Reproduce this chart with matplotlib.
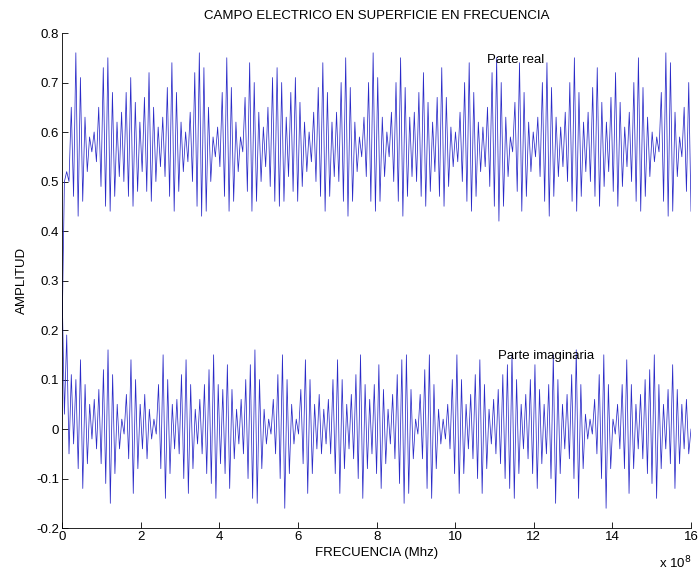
import matplotlib.pyplot as plt
import numpy as np
from matplotlib.ticker import FuncFormatter

# extrema (alternating max/min), real part
parte_real = [0.20, 0.50, 0.52, 0.50,
    0.65, 0.47, 0.76, 0.43, 0.71, 0.46, 0.63, 0.52, 0.59, 0.56, 0.60, 0.54, 0.65, 0.49, 0.73, 0.45,
    0.75, 0.44, 0.68, 0.47, 0.62, 0.51, 0.64, 0.50, 0.68, 0.47, 0.71, 0.45, 0.66, 0.48, 0.62, 0.52,
    0.67, 0.48, 0.72, 0.46, 0.65, 0.50, 0.61, 0.53, 0.63, 0.51, 0.69, 0.47, 0.74, 0.44, 0.68, 0.48,
    0.62, 0.52, 0.60, 0.54, 0.64, 0.50, 0.72, 0.45, 0.76, 0.43, 0.73, 0.44, 0.65, 0.50, 0.59, 0.55,
    0.61, 0.53, 0.68, 0.47, 0.75, 0.44, 0.69, 0.46, 0.62, 0.52, 0.59, 0.56, 0.67, 0.48, 0.74, 0.44,
    0.70, 0.46, 0.64, 0.50, 0.61, 0.53, 0.65, 0.49, 0.71, 0.46, 0.73, 0.45, 0.70, 0.46, 0.63, 0.51,
    0.68, 0.48, 0.71, 0.46, 0.66, 0.49, 0.62, 0.52, 0.60, 0.54, 0.64, 0.50, 0.69, 0.47, 0.74, 0.44,
    0.68, 0.47, 0.62, 0.51, 0.64, 0.50, 0.70, 0.46, 0.75, 0.43, 0.69, 0.46, 0.62, 0.52, 0.59, 0.55,
    0.63, 0.51, 0.70, 0.46, 0.76, 0.44, 0.71, 0.46, 0.63, 0.51, 0.60, 0.55, 0.64, 0.50, 0.70, 0.46,
    0.75, 0.43, 0.69, 0.47, 0.63, 0.51, 0.64, 0.50, 0.68, 0.47, 0.72, 0.45, 0.66, 0.48, 0.62, 0.52,
    0.67, 0.47, 0.73, 0.45, 0.67, 0.49, 0.61, 0.53, 0.60, 0.54, 0.64, 0.50, 0.70, 0.46, 0.74, 0.44,
    0.68, 0.47, 0.62, 0.52, 0.61, 0.53, 0.65, 0.49, 0.72, 0.45, 0.75, 0.42, 0.70, 0.45, 0.63, 0.51,
    0.59, 0.56, 0.66, 0.48, 0.74, 0.44, 0.68, 0.47, 0.62, 0.52, 0.60, 0.55, 0.63, 0.51, 0.70, 0.46,
    0.74, 0.43, 0.69, 0.47, 0.63, 0.51, 0.61, 0.53, 0.64, 0.50, 0.70, 0.46, 0.75, 0.44, 0.68, 0.47,
    0.62, 0.52, 0.64, 0.50, 0.69, 0.47, 0.73, 0.45, 0.66, 0.49, 0.62, 0.52, 0.67, 0.48, 0.72, 0.45,
    0.66, 0.49, 0.61, 0.53, 0.64, 0.50, 0.70, 0.46, 0.75, 0.44, 0.69, 0.47, 0.63, 0.51, 0.60, 0.54,
    0.59, 0.56, 0.68, 0.46, 0.76, 0.43, 0.74, 0.44, 0.64, 0.51, 0.59, 0.55, 0.65, 0.48, 0.70, 0.44]

# imaginary part
parte_imag = [0.28, 0.03,
    0.19, -0.05, 0.11, -0.03, 0.10, -0.08, 0.14, -0.12, 0.09, -0.07, 0.05, -0.02, 0.06, -0.04,
    0.08, -0.07, 0.12, -0.11, 0.16, -0.15, 0.11, -0.09, 0.05, -0.04, 0.02, -0.01, 0.07, -0.06,
    0.14, -0.13, 0.10, -0.08, 0.05, -0.04, 0.07, -0.06, 0.04, -0.02, 0.02, -0.01, 0.09, -0.08,
    0.15, -0.14, 0.10, -0.09, 0.05, -0.04, 0.06, -0.05, 0.11, -0.10, 0.14, -0.13, 0.09, -0.08,
    0.04, -0.03, 0.06, -0.05, 0.09, -0.09, 0.12, -0.11, 0.15, -0.14, 0.09, -0.07, 0.08, -0.09,
    0.13, -0.12, 0.08, -0.06, 0.04, -0.03, 0.06, -0.05, 0.10, -0.10, 0.13, -0.14, 0.16, -0.15,
    0.10, -0.08, 0.04, -0.03, 0.02, -0.01, 0.06, -0.05, 0.11, -0.10, 0.15, -0.16, 0.10, -0.09,
    0.05, -0.03, 0.02, -0.01, 0.08, -0.07, 0.14, -0.13, 0.10, -0.09, 0.05, -0.04, 0.07, -0.05,
    0.04, -0.03, 0.06, -0.05, 0.10, -0.09, 0.14, -0.13, 0.10, -0.08, 0.05, -0.04, 0.07, -0.06,
    0.11, -0.10, 0.15, -0.14, 0.09, -0.08, 0.06, -0.05, 0.09, -0.09, 0.13, -0.12, 0.08, -0.07,
    0.04, -0.03, 0.07, -0.06, 0.11, -0.11, 0.14, -0.15, 0.15, -0.13, 0.08, -0.06, 0.02, -0.01,
    0.07, -0.06, 0.12, -0.12, 0.15, -0.14, 0.09, -0.08, 0.04, -0.03, 0.02, -0.02, 0.05, -0.04,
    0.10, -0.09, 0.15, -0.13, 0.10, -0.09, 0.05, -0.04, 0.07, -0.06, 0.11, -0.10, 0.14, -0.13,
    0.09, -0.08, 0.04, -0.03, 0.06, -0.05, 0.08, -0.07, 0.11, -0.10, 0.13, -0.12, 0.15, -0.14,
    0.10, -0.09, 0.05, -0.04, 0.07, -0.06, 0.10, -0.09, 0.13, -0.12, 0.08, -0.07, 0.05, -0.05,
    0.09, -0.10, 0.15, -0.15, 0.10, -0.09, 0.05, -0.04, 0.07, -0.06, 0.11, -0.10, 0.16, -0.14,
    0.09, -0.08, 0.03, -0.02, 0.02, -0.01, 0.06, -0.05, 0.11, -0.10, 0.15, -0.16, 0.09, -0.08,
    0.02, -0.01, 0.05, -0.04, 0.09, -0.08, 0.14, -0.13, 0.09, -0.08, 0.05, -0.04, 0.07, -0.06,
    0.10, -0.09, 0.12, -0.11, 0.15, -0.14, 0.09, -0.08, 0.05, -0.04, 0.08, -0.07, 0.13, -0.12,
    0.08, -0.07, 0.05, -0.04, 0.06, -0.05, 0.00]

f_max = 16e8
yticks = [-0.2, -0.1, 0, 0.1, 0.2, 0.3, 0.4, 0.5, 0.6, 0.7, 0.8]
xticks = [0, 2e8, 4e8, 6e8, 8e8, 10e8, 12e8, 14e8, 16e8]

plt.rcParams['font.family'] = ['Liberation Sans', 'DejaVu Sans']
plt.rcParams['font.size'] = 9.5

fig = plt.figure(figsize=(6.98, 5.74), dpi=100)
ax = fig.add_axes([0.089, 0.080, 0.901, 0.8625])

f_real = np.linspace(0, f_max, len(parte_real))
f_imag = np.linspace(0, f_max, len(parte_imag))
ax.plot(f_real, parte_real, color='#2a2ac8', lw=0.55)
ax.plot(f_imag, parte_imag, color='#2a2ac8', lw=0.55)

ax.text(10.8e8, 0.745, 'Parte real', va='center', ha='left')
ax.text(11.1e8, 0.147, 'Parte imaginaria', va='center', ha='left')

ax.set_xlim(0, f_max)
ax.set_ylim(-0.2, 0.8)
ax.set_xticks(xticks)
ax.set_yticks(yticks)
ax.xaxis.set_major_formatter(FuncFormatter(lambda v, p: '%g' % (v / 1e8)))
ax.yaxis.set_major_formatter(FuncFormatter(lambda v, p: '%g' % v))
ax.tick_params(direction='in', length=4, width=0.6, pad=2)
for s in ['top', 'right']:
    ax.spines[s].set_visible(False)
for s in ['left', 'bottom']:
    ax.spines[s].set_linewidth(0.6)

ax.set_title('CAMPO ELECTRICO EN SUPERFICIE EN FRECUENCIA', fontsize=9.5, pad=10)
ax.set_xlabel('FRECUENCIA (Mhz)', labelpad=3)
ax.set_ylabel('AMPLITUD', labelpad=6)
ax.text(1.0, -0.07, r'x 10$^{8}$', transform=ax.transAxes, ha='right', va='center')

fig.savefig('out.png', dpi=100)
